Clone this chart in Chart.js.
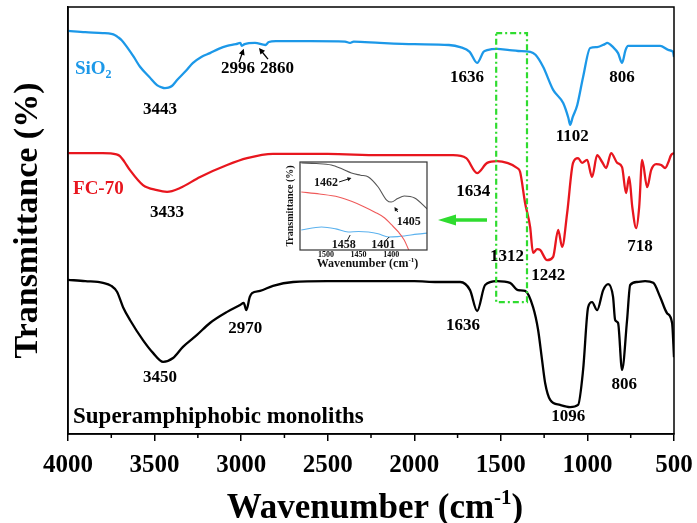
<!DOCTYPE html>
<html><head><meta charset="utf-8">
<script src="https://cdn.jsdelivr.net/npm/chart.js@4.4.0/dist/chart.umd.min.js"></script>
<style>
html,body{margin:0;padding:0;background:#fff;}
#wrap{position:relative;width:697px;height:523px;overflow:hidden;}
#main{position:absolute;left:0;top:0;}
#inset{position:absolute;left:272px;top:158px;}
</style></head><body>
<div id="wrap"><canvas id="main" width="697" height="523"></canvas><canvas id="inset" width="160" height="115"></canvas></div>
<script>
// ---------- data (wavenumber in cm-1, transmittance in arbitrary offset %) ----------
const xTicks = [4000,3500,3000,2500,2000,1500,1000,500];
const xMinorTicks = [3750,3250,2750,2250,1750,1250,750];

const sio2Wn = [4000,3900,3800,3750,3728,3710,3690,3659,3620,3584,3530,3486,3460,3440,3420,3400,3370,3320,3278,3230,3180,3130,3081,3030,3005,2996,2980,2920,2860,2840,2800,2600,2400,2371,2350,2200,2000,1800,1735,1680,1637,1600,1579,1522,1450,1400,1330,1300,1256,1198,1140,1110,1100,1085,1059,1025,984,944,900,886,852,823,800,780,765,700,580,530,506,500];
const sio2T  = [94.4,94.1,93.9,93.7,93.4,92.9,92.2,90.6,88.3,86.0,83.6,81.7,81.2,81.0,81.1,81.5,82.9,85.0,86.9,88.3,89.2,90.2,90.9,91.3,91.6,90.9,91.3,91.6,91.1,91.8,92.0,92.0,91.9,91.6,91.9,91.6,91.3,91.1,90.6,89.5,86.9,89.5,89.9,90.2,89.9,89.7,89.5,88.8,86.0,80.6,77.5,74.0,72.4,74.2,77.0,83.6,90.4,90.6,91.3,91.6,90.6,89.2,86.9,89.9,90.9,90.9,90.9,89.9,89.5,88.3];

const fcWn = [4000,3800,3720,3700,3675,3642,3567,3486,3428,3353,3237,3081,2966,2816,2500,2200,1776,1700,1637,1579,1522,1464,1406,1389,1360,1331,1314,1290,1273,1233,1198,1169,1146,1117,1083,1054,1031,1002,973,944,915,892,863,828,800,777,759,741,718,701,684,655,632,603,574,551,534,517,500];
const fcT  = [65.8,65.8,65.5,65.1,63.8,61.8,58.3,57.1,56.7,57.6,60.2,63.0,64.6,65.6,65.6,65.3,65.3,64.6,61.1,63.5,63.9,63.5,62.3,61.4,54.1,48.5,42.4,43.3,43.1,40.7,41.5,47.8,43.8,51.8,63.5,64.6,63.5,64.2,60.2,65.3,63.7,62.3,65.8,63.5,62.5,56.4,60.2,53.2,48.2,53.2,64.2,57.8,61.8,63.2,63.0,62.3,63.5,65.3,65.8];

const smWn = [4000,3900,3798,3750,3717,3682,3642,3567,3509,3451,3393,3336,3255,3180,3081,3006,2985,2970,2950,2937,2891,2816,2700,2504,2300,2000,1868,1735,1678,1637,1591,1522,1447,1400,1360,1314,1285,1262,1244,1215,1158,1100,1054,1025,996,973,944,909,880,852,840,823,800,771,753,713,667,620,580,540,511,500];
const smT  = [36.1,35.8,35.4,34.7,33.3,29.7,26.7,22.0,19.0,16.9,17.8,20.4,23.2,26.0,28.6,30.2,30.7,29.0,32.1,33.0,33.5,34.7,35.6,35.8,35.8,35.8,35.6,35.6,33.7,28.8,34.9,35.8,35.4,33.7,33.5,29.7,24.4,17.3,11.9,8.0,6.8,6.3,6.8,15.0,29.7,30.9,29.0,33.7,35.1,32.1,26.7,26.0,15.0,26.7,34.9,35.6,35.8,35.4,32.1,28.3,26.0,18.0];

// inset (zoom of 1540-1345 cm-1, own transmittance scale)
const insTicks = [1500,1450,1400];
const insBlackWn = [1538,1515,1492,1475,1461,1447,1435,1420,1407,1400,1390,1380,1364,1343];
const insBlackT  = [98.9,98.3,96.6,92.0,87.5,85.0,83.0,71.6,56.8,54.5,58.5,61.4,59.1,45.5];
const insRedWn = [1538,1510,1481,1460,1441,1425,1410,1400,1389,1380,1373,1368];
const insRedT  = [65.9,63.6,60.2,55.0,48.9,43.0,36.4,29.0,20.5,11.4,0,-8];
const insBlueWn = [1538,1507,1485,1466,1450,1435,1420,1404,1390,1380,1360,1343];
const insBlueT  = [22.7,26.1,24.0,20.5,21.0,20.5,18.5,14.8,15.2,15.9,18.0,19.3];

// peak labels: [text, wavenumber, transmittance]
const peakLabels = [
  ['3443',3469,75.9],['2996',3018,85.5],['2860',2793,85.5],['1636',1695,83.4],['1102',1088,69.6],['806',800,83.4],
  ['3433',3428,51.8],['1634',1660,56.7],['1312',1464,41.5],['1242',1227,37.2],['718',696,44.0],
  ['2970',2977,24.6],['3450',3469,13.1],['1636',1718,25.3],['806',788,11.5],['1096',1111,4.0]
];
const insLabels = [['1462',1500,76.1],['1405',1373,31.8],['1458',1473,5.5],['1401',1412,5.5]];

// ---------- helpers ----------
const SERIF = '"Liberation Serif","Times New Roman",serif';
const BLUE = '#1c98e8', RED = '#e8161e', GREEN = '#2fdc2f';
const pts = (w,t) => w.map((v,i)=>({x:v,y:t[i]}));
function bf(size){return 'bold '+size+'px '+SERIF;}
function richText(ctx, parts, x, y, align, color){
  let w=0; parts.forEach(p=>{ctx.font=bf(p[1]); w+=ctx.measureText(p[0]).width;});
  let cx = align==='center'? x-w/2 : (align==='right'? x-w : x);
  ctx.fillStyle=color; ctx.textAlign='left'; ctx.textBaseline='alphabetic';
  parts.forEach(p=>{ctx.font=bf(p[1]); ctx.fillText(p[0],cx,y+(p[2]||0)); cx+=ctx.measureText(p[0]).width;});
}
function arrow(ctx,x1,y1,x2,y2,hl,hw,color,lw){
  const a=Math.atan2(y2-y1,x2-x1);
  ctx.strokeStyle=color; ctx.fillStyle=color; ctx.lineWidth=lw; ctx.setLineDash([]);
  ctx.beginPath(); ctx.moveTo(x1,y1); ctx.lineTo(x2-Math.cos(a)*hl*0.8,y2-Math.sin(a)*hl*0.8); ctx.stroke();
  ctx.beginPath(); ctx.moveTo(x2,y2);
  ctx.lineTo(x2-Math.cos(a)*hl+Math.sin(a)*hw/2, y2-Math.sin(a)*hl-Math.cos(a)*hw/2);
  ctx.lineTo(x2-Math.cos(a)*hl-Math.sin(a)*hw/2, y2-Math.sin(a)*hl+Math.cos(a)*hw/2);
  ctx.closePath(); ctx.fill();
}

const mainDecor = {
  id:'mainDecor',
  beforeDraw(c){const ctx=c.ctx; ctx.save(); ctx.fillStyle='#fff'; ctx.fillRect(0,0,c.width,c.height); ctx.restore();},
  afterDraw(c){
    const ctx=c.ctx, a=c.chartArea, X=c.scales.x, Y=c.scales.y;
    const px=v=>X.getPixelForValue(v), py=v=>Y.getPixelForValue(v);
    ctx.save();
    ctx.strokeStyle='#000'; ctx.lineWidth=1.5;
    ctx.strokeRect(a.left,a.top,a.right-a.left,a.bottom-a.top);
    xMinorTicks.forEach(v=>{ctx.beginPath(); ctx.moveTo(px(v),a.bottom); ctx.lineTo(px(v),a.bottom+4); ctx.stroke();});
    ctx.strokeStyle=GREEN; ctx.lineWidth=2.2; ctx.setLineDash([6,3,2,3]);
    ctx.strokeRect(px(1527),py(93.9),px(1349)-px(1527),py(30.9)-py(93.9));
    ctx.setLineDash([]);
    arrow(ctx,px(1580),py(50.1),px(1863),py(50.1),18,11,GREEN,3.5);
    ctx.fillStyle='#000'; ctx.textAlign='center'; ctx.textBaseline='middle'; ctx.font=bf(17);
    peakLabels.forEach(l=>{ctx.fillText(l[0],px(l[1]),py(l[2]));});
    arrow(ctx,px(3012),py(87.1),px(2985),py(90.2),6,6,'#000',1.3);
    arrow(ctx,px(2845),py(87.8),px(2897),py(90.4),6,6,'#000',1.3);
    richText(ctx,[['SiO',19,0],['2',12,4]],px(3960),py(86.0)+7,'left',BLUE);
    richText(ctx,[['FC-70',19,0]],px(3971),py(57.8)+7,'left',RED);
    richText(ctx,[['Superamphiphobic monoliths',23,0]],px(3971),py(4.4)+8,'left','#000');
    richText(ctx,[['Wavenumber (cm',35,0],['-1',21,-14],[')',35,0]],(a.left+a.right)/2+4,518,'center','#000');
    ctx.restore();
  }
};

new Chart(document.getElementById('main'),{
  type:'line',
  data:{datasets:[
    {label:'Superamphiphobic monoliths',data:pts(smWn,smT),borderColor:'#000'},
    {label:'FC-70',data:pts(fcWn,fcT),borderColor:RED},
    {label:'SiO2',data:pts(sio2Wn,sio2T),borderColor:BLUE}
  ]},
  options:{
    responsive:false,animation:false,devicePixelRatio:1,
    layout:{padding:{top:7,right:23,left:0,bottom:0}},
    plugins:{legend:{display:false},tooltip:{enabled:false}},
    elements:{point:{radius:0},line:{borderWidth:2.3,cubicInterpolationMode:'monotone',fill:false}},
    scales:{
      x:{type:'linear',reverse:true,min:500,max:4000,
        afterBuildTicks:s=>{s.ticks=xTicks.map(v=>({value:v}));},
        afterFit:s=>{s.height=89; s.paddingLeft=0; s.paddingRight=0;},
        grid:{display:true,drawOnChartArea:false,drawTicks:true,tickLength:7,color:'#000',lineWidth:1.5},
        border:{display:true,color:'#000',width:1.5},
        ticks:{callback:v=>String(v),font:{family:SERIF,size:25,weight:'bold',lineHeight:1},color:'#000',padding:12,maxRotation:0,autoSkip:false}
      },
      y:{min:0,max:100,afterFit:s=>{s.width=68;},
        grid:{display:false,drawTicks:false},border:{display:true,color:'#000',width:1.5},
        ticks:{display:false},
        title:{display:true,text:'Transmittance (%)',font:{family:SERIF,size:34,weight:'bold',lineHeight:1.2},color:'#000',padding:{top:8,bottom:0}}
      }
    }
  },
  plugins:[mainDecor]
});

const insetDecor = {
  id:'insetDecor',
  afterDraw(c){
    const ctx=c.ctx, a=c.chartArea, X=c.scales.x, Y=c.scales.y;
    const px=v=>X.getPixelForValue(v), py=v=>Y.getPixelForValue(v);
    ctx.save();
    ctx.strokeStyle='#333'; ctx.lineWidth=1.2;
    ctx.strokeRect(a.left,a.top,a.right-a.left,a.bottom-a.top);
    ctx.fillStyle='#111'; ctx.textAlign='center'; ctx.textBaseline='middle'; ctx.font=bf(12);
    insLabels.forEach(l=>{ctx.fillText(l[0],px(l[1]),py(l[2]));});
    arrow(ctx,px(1480),py(77.3),px(1461),py(81.8),4,4,'#111',1);
    arrow(ctx,px(1390),py(43.2),px(1395),py(48.9),4,4,'#111',1);
    ctx.strokeStyle='#111'; ctx.lineWidth=1;
    ctx.beginPath(); ctx.moveTo(px(1467),py(11.4)); ctx.lineTo(px(1463),py(17.0)); ctx.stroke();
    ctx.beginPath(); ctx.moveTo(px(1409),py(10.2)); ctx.lineTo(px(1403),py(14.8)); ctx.stroke();
    richText(ctx,[['Wavenumber (cm',12,0],['-1',7,-5],[')',12,0]],(a.left+a.right)/2+4,c.height-6,'center','#111');
    ctx.translate(18,(a.top+a.bottom)/2); ctx.rotate(-Math.PI/2);
    ctx.font=bf(10); ctx.fillStyle='#111'; ctx.textAlign='center'; ctx.textBaseline='middle';
    ctx.fillText('Transmittance (%)',0,0);
    ctx.restore();
  }
};

new Chart(document.getElementById('inset'),{
  type:'line',
  data:{datasets:[
    {data:pts(insBlackWn,insBlackT),borderColor:'#555'},
    {data:pts(insRedWn,insRedT),borderColor:'#ef5a5a'},
    {data:pts(insBlueWn,insBlueT),borderColor:'#5cb2ee'}
  ]},
  options:{
    responsive:false,animation:false,devicePixelRatio:1,
    layout:{padding:{top:4,right:5,left:0,bottom:0}},
    plugins:{legend:{display:false},tooltip:{enabled:false}},
    elements:{point:{radius:0},line:{borderWidth:1.1,cubicInterpolationMode:'monotone',fill:false}},
    scales:{
      x:{type:'linear',reverse:true,min:1345,max:1540,
        afterBuildTicks:s=>{s.ticks=insTicks.map(v=>({value:v}));},
        afterFit:s=>{s.height=23; s.paddingLeft=0; s.paddingRight=0;},
        grid:{display:false,drawTicks:false},border:{display:false},
        ticks:{callback:v=>String(v),font:{family:SERIF,size:8,weight:'bold',lineHeight:1},color:'#111',padding:1,maxRotation:0,autoSkip:false}
      },
      y:{min:0,max:100,afterFit:s=>{s.width=28;},
        grid:{display:false,drawTicks:false},border:{display:false},ticks:{display:false}}
    }
  },
  plugins:[insetDecor]
});
</script>
</body></html>
